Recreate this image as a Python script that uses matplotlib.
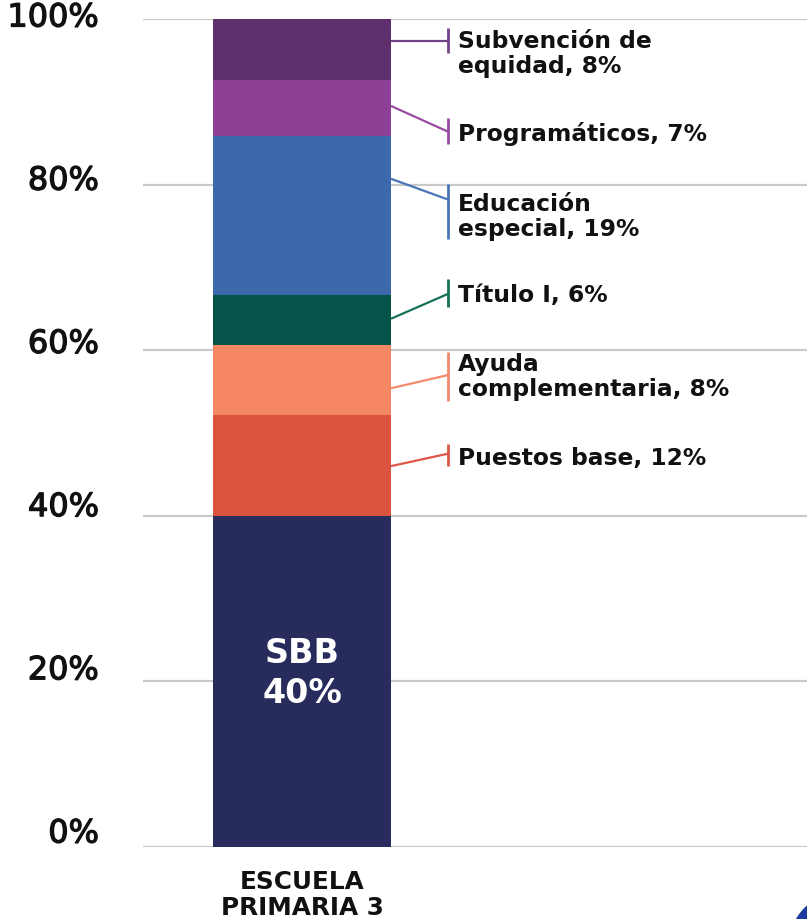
import numpy as np
import matplotlib
matplotlib.use('Agg')
import matplotlib.pyplot as plt
import matplotlib.patheffects as pe
from matplotlib.patches import Ellipse

# ---------------------------------------------------------------------------
# Data (bottom -> top)
# ---------------------------------------------------------------------------
SCHOOL = 'ESCUELA\nPRIMARIA 3'
categories = ['SBB', 'Puestos base', 'Ayuda complementaria', 'Título I',
              'Educación especial', 'Programáticos', 'Subvención de equidad']
values = [40.0, 12.2, 8.4, 6.1, 19.2, 6.7, 7.4]
shown_pct = [40, 12, 8, 6, 19, 7, 8]
label_text = [None, 'Puestos base', 'Ayuda\ncomplementaria', 'Título I',
              'Educación\nespecial', 'Programáticos', 'Subvención de\nequidad']
colors = ['#272C5C', '#DA533F', '#F68763', '#04544A',
          '#3B69AC', '#8E3F96', '#5F2E6C']
leader_colors = [None, '#E0574A', '#F48A6C', '#157159',
                 '#4A74B8', '#9A4AA3', '#74418A']
yticks = [0, 20, 40, 60, 80, 100]

# leader-line layout (in % units): start at bar edge, end at tick, tick span,
# baseline of the last text line
lead_start = [None, 46.0, 55.4, 63.8, 80.7, 89.5, 97.4]
lead_end = [None, 47.5, 57.0, 66.8, 78.2, 86.4, 97.4]
tick_span = [None, (46.0, 48.7), (53.9, 59.8), (65.2, 68.6),
             (73.4, 80.1), (84.9, 88.0), (95.9, 98.9)]
text_base = [None, 46.3, 54.6, 65.9, 73.9, 85.4, 93.6]

DARK = '#111111'
GRID = '#C9C9C9'

fig = plt.figure(figsize=(8.07, 9.2), dpi=100)
ax = fig.add_axes([143 / 807, 72 / 920, 1 - 143 / 807, (920 - 72 - 20) / 920])

bottoms = np.concatenate([[0], np.cumsum(values)[:-1]])
ax.bar([0] * len(values), values, bottom=bottoms, width=1.0,
       color=colors, linewidth=0, zorder=2)

ax.set_xlim(-0.893, 2.837)
ax.set_ylim(0, 100)
ax.set_axisbelow(True)
ax.yaxis.grid(True, color=GRID, linewidth=1.6)
ax.set_xticks([])
ax.set_yticks(yticks)
ax.set_yticklabels([])
ax.tick_params(axis='y', length=0)
for s in ax.spines.values():
    s.set_visible(False)

# y labels sit a little above their gridlines (more so near the bottom);
# a thin stroke gives a medium weight between DejaVu regular and bold
medium = [pe.withStroke(linewidth=0.9, foreground=DARK)]
for t in yticks:
    ax.text(-1.14, t + 1.57 - 0.0145 * t, f'{t}%', ha='right', va='center',
            fontsize=23, color=DARK, clip_on=False, path_effects=medium)

# SBB label inside the bar
ax.text(0, 17.5, f'{categories[0]}\n{shown_pct[0]}%', ha='center', va='baseline',
        color='white', fontsize=24, fontweight='bold', linespacing=1.27)

# leader lines + labels
x_edge, x_tick, x_text = 0.5, 0.82, 0.876
for i in range(1, len(values)):
    c = leader_colors[i]
    ax.plot([x_edge, x_tick], [lead_start[i], lead_end[i]], color=c,
            linewidth=1.6, solid_capstyle='butt', clip_on=False, zorder=3)
    ax.plot([x_tick, x_tick], tick_span[i], color=c, linewidth=2.0,
            solid_capstyle='butt', clip_on=False, zorder=3)
    ax.text(x_text, text_base[i], f'{label_text[i]}, {shown_pct[i]}%',
            ha='left', va='baseline', fontsize=16.8, fontweight='bold',
            color=DARK, linespacing=1.12, clip_on=False)

# category label under the bar
ax.text(0, -8.09, SCHOOL, ha='center', va='baseline', fontsize=17.8,
        fontweight='bold', color=DARK, linespacing=1.12, clip_on=False)

# logo fragment in the bottom-right corner
fig.patches.append(Ellipse((840 / 807, -25 / 920), 100 / 807, 100 / 920,
                           transform=fig.transFigure, color='#1B3C9E',
                           clip_on=False))

fig.savefig('out.png', dpi=100)
